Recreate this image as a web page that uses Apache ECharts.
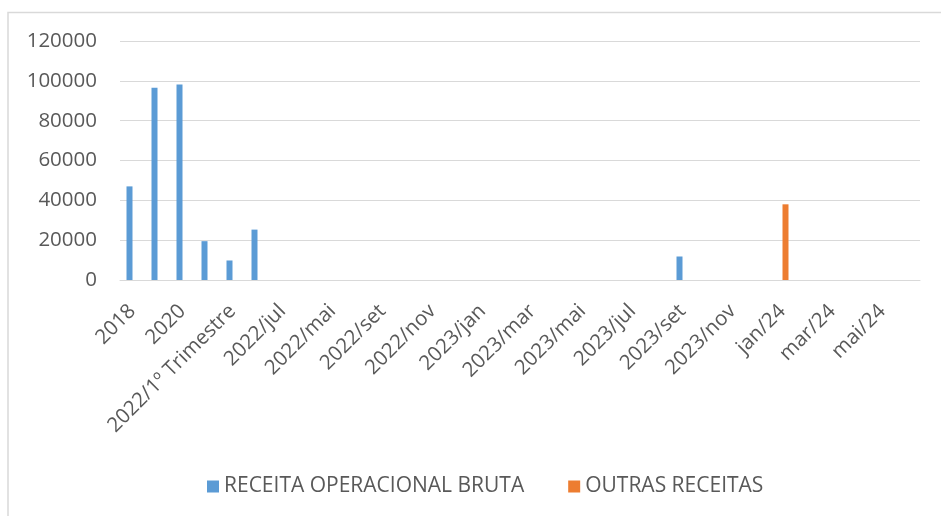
<!DOCTYPE html>
<html>
<head>
<meta charset="utf-8">
<script src="https://cdn.jsdelivr.net/npm/echarts@6/dist/echarts.min.js"></script>
<style>
    html, body { margin: 0; padding: 0; background: #ffffff; }
    #chart { width: 941px; height: 516px; }
</style>
</head>
<body>
<div id="chart"></div>
<script>
// categories (only every other label is shown on the axis)
const categories = [
    "2018", "2019", "2020", "2021",
    "2022/1º Trimestre", "2022/2º Trimestre", "2022/jul", "2022/abr",
    "2022/mai", "2022/ago", "2022/set", "2022/out",
    "2022/nov", "2022/dez", "2023/jan", "2023/fev",
    "2023/mar", "2023/abr", "2023/mai", "2023/jun",
    "2023/jul", "2023/ago", "2023/set", "2023/out",
    "2023/nov", "2023/dez", "jan/24", "fev/24",
    "mar/24", "abr/24", "mai/24", "jun/24"
];

const receitaOperacional = [
    47000, 96500, 98200, 19500,
    9800, 25300, null, null,
    null, null, null, null,
    null, null, null, null,
    null, null, null, null,
    null, null, 11800, null,
    null, null, null, null,
    null, null, null, null
];

const outrasReceitas = [
    null, null, null, null,
    null, null, null, null,
    null, null, null, null,
    null, null, null, null,
    null, null, null, null,
    null, null, null, null,
    null, null, 38000, null,
    null, null, null, null
];

const yTicks = { min: 0, max: 120000, interval: 20000 };

const textColor = "#595959";
const gridColor = "#d9d9d9";
const fontFamily = "'Open Sans', sans-serif";

const chart = echarts.init(document.getElementById("chart"));

chart.setOption({
    animation: false,
    color: ["#5b9bd5", "#ed7d31"],
    textStyle: {
        fontFamily: fontFamily
    },
    graphic: [
        {
            type: "rect",
            silent: true,
            shape: { x: 8, y: 12.5, width: 1000, height: 600 },
            style: { fill: "none", stroke: gridColor, lineWidth: 1.5 }
        }
    ],
    grid: {
        left: 120,
        right: 21,
        top: 41,
        bottom: 236,
        containLabel: false
    },
    legend: {
        left: 202,
        top: 471,
        icon: "rect",
        itemWidth: 12,
        itemHeight: 12,
        itemGap: 44,
        textStyle: {
            color: textColor,
            fontSize: 21,
            fontFamily: fontFamily
        },
        data: ["RECEITA OPERACIONAL BRUTA", "OUTRAS RECEITAS"]
    },
    xAxis: {
        type: "category",
        data: categories,
        axisLine: {
            lineStyle: { color: gridColor, width: 1 }
        },
        axisTick: { show: false },
        axisLabel: {
            interval: 1,
            rotate: 45,
            margin: 28,
            padding: [11, 0, 0, 0],
            color: textColor,
            fontSize: 20.5,
            fontFamily: fontFamily
        }
    },
    yAxis: {
        type: "value",
        min: yTicks.min,
        max: yTicks.max,
        interval: yTicks.interval,
        axisLine: { show: false },
        axisTick: { show: false },
        splitLine: {
            lineStyle: { color: gridColor, width: 1 }
        },
        axisLabel: {
            margin: 23,
            color: textColor,
            fontSize: 20.5,
            fontFamily: fontFamily,
            formatter: value => String(value)
        }
    },
    series: [
        {
            name: "RECEITA OPERACIONAL BRUTA",
            type: "bar",
            barWidth: 6,
            barGap: "0%",
            data: receitaOperacional
        },
        {
            name: "OUTRAS RECEITAS",
            type: "bar",
            barWidth: 6,
            barGap: "0%",
            data: outrasReceitas
        }
    ]
});
</script>
</body>
</html>
